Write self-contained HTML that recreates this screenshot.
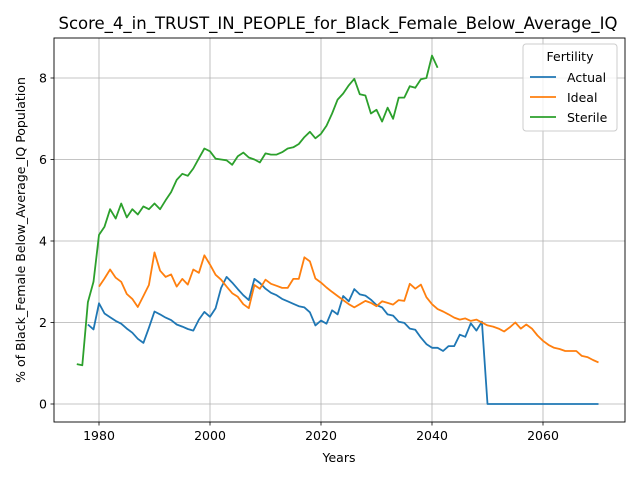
<!DOCTYPE html>
<html><head><meta charset="utf-8"><style>
body{margin:0;background:#fff;font-family:"Liberation Sans","DejaVu Sans",sans-serif}
svg text{font-family:"DejaVu Sans","Liberation Sans",sans-serif;fill:#000}
</style></head><body>
<svg id="chart" width="640" height="480">
<text x="338" y="29" font-size="16.5" text-anchor="middle">Score_4_in_TRUST_IN_PEOPLE_for_Black_Female_Below_Average_IQ</text>
<g id="grid"></g>
<g id="series"></g>
<rect x="54" y="38" width="571" height="384" fill="none" stroke="#000" stroke-width="0.9"/>
<g id="ticks"></g>
<text x="339" y="462" font-size="12.5" text-anchor="middle">Years</text>
<text transform="translate(25,230) rotate(-90)" font-size="12.5" text-anchor="middle">% of Black_Female Below_Average_IQ Population</text>
<g>
<rect x="523" y="44" width="94" height="87" rx="3" fill="#fff" fill-opacity="0.8" stroke="#ccc"/>
<text x="570" y="61" font-size="12.5" text-anchor="middle">Fertility</text>
<line x1="530" y1="77" x2="556" y2="77" stroke="#1f77b4" stroke-width="1.8"/>
<text x="567" y="82" font-size="12.5">Actual</text>
<line x1="530" y1="97" x2="556" y2="97" stroke="#ff7f0e" stroke-width="1.8"/>
<text x="567" y="102" font-size="12.5">Ideal</text>
<line x1="530" y1="117" x2="556" y2="117" stroke="#2ca02c" stroke-width="1.8"/>
<text x="567" y="122" font-size="12.5">Sterile</text>
</g>
</svg>
<script>
const xTicks=[1980,2000,2020,2040,2060];
const yTicks=[0,2,4,6,8];
const sterileStart=1976;
const sterileVals=[0.98,0.95,2.5,3.0,4.15,4.35,4.78,4.55,4.92,4.58,4.78,4.65,4.85,4.78,4.92,4.78,5.0,5.2,5.5,5.65,5.6,5.78,6.03,6.27,6.2,6.02,6.0,5.98,5.87,6.08,6.17,6.05,6.0,5.93,6.15,6.12,6.12,6.18,6.27,6.3,6.38,6.55,6.68,6.52,6.63,6.83,7.13,7.47,7.62,7.82,7.98,7.6,7.57,7.13,7.22,6.93,7.27,7.0,7.52,7.52,7.8,7.76,7.97,8.0,8.55,8.25];
const actualStart=1978;
const actualVals=[1.95,1.83,2.47,2.22,2.13,2.04,1.97,1.85,1.75,1.6,1.5,1.87,2.27,2.2,2.12,2.06,1.95,1.9,1.84,1.8,2.07,2.26,2.14,2.35,2.85,3.12,2.98,2.82,2.67,2.55,3.07,2.97,2.83,2.73,2.67,2.58,2.52,2.46,2.4,2.37,2.25,1.93,2.05,1.97,2.3,2.2,2.65,2.52,2.82,2.69,2.66,2.56,2.43,2.37,2.2,2.17,2.02,1.99,1.85,1.82,1.63,1.47,1.38,1.38,1.3,1.42,1.42,1.7,1.65,1.98,1.8,2.02,0,0,0,0,0,0,0,0,0,0,0,0,0,0,0,0,0,0,0,0,0];
const idealStart=1980;
const idealVals=[2.88,3.08,3.3,3.1,3.0,2.7,2.58,2.38,2.65,2.92,3.72,3.27,3.12,3.18,2.88,3.07,2.93,3.3,3.22,3.65,3.42,3.17,3.05,2.88,2.72,2.63,2.45,2.35,2.92,2.83,3.05,2.95,2.9,2.85,2.85,3.07,3.07,3.6,3.5,3.08,2.98,2.86,2.75,2.65,2.55,2.45,2.37,2.45,2.53,2.48,2.4,2.52,2.48,2.44,2.55,2.53,2.95,2.83,2.93,2.62,2.45,2.33,2.27,2.2,2.12,2.07,2.1,2.04,2.07,2.0,1.93,1.9,1.85,1.78,1.88,2.0,1.85,1.95,1.85,1.68,1.55,1.45,1.38,1.35,1.3,1.3,1.3,1.18,1.15,1.08,1.02];
const X=y=>99+(y-1980)*5.55, Y=v=>404-v*40.75;
const NS='http://www.w3.org/2000/svg';
const grid=document.getElementById('grid'),ticks=document.getElementById('ticks'),ser=document.getElementById('series');
function mk(tag,attrs,parent){const e=document.createElementNS(NS,tag);for(const k in attrs)e.setAttribute(k,attrs[k]);parent.appendChild(e);return e;}
xTicks.forEach(t=>{const x=X(t);
 const g=mk('line',{x1:x,x2:x,y1:38,y2:422,stroke:'#b0b0b0','stroke-width':0.8},grid);
 
 
 mk('line',{x1:x,x2:x,y1:422,y2:425.5,stroke:'#000','stroke-width':0.8},ticks);
 const tx=mk('text',{x:x,y:440,'font-size':12.5,'text-anchor':'middle'},ticks);tx.textContent=t;
 
 });
yTicks.forEach(t=>{const y=Y(t);
 const g=mk('line',{x1:54,x2:625,y1:y,y2:y,stroke:'#b0b0b0','stroke-width':0.8},grid);
 
 
 mk('line',{x1:50.5,x2:54,y1:y,y2:y,stroke:'#000','stroke-width':0.8},ticks);
 const tx=mk('text',{x:47,y:y+4.5,'font-size':12.5,'text-anchor':'end'},ticks);tx.textContent=t;
 
 });
function line(start,vals,color,name){const pts=vals.map((v,i)=>X(start+i).toFixed(1)+','+Y(v).toFixed(1)).join(' ');
 const p=mk('polyline',{points:pts,fill:'none',stroke:color,'stroke-width':1.8,'stroke-linejoin':'round'},ser);
 
 }
line(actualStart,actualVals,'#1f77b4','actual-line');
line(idealStart,idealVals,'#ff7f0e','ideal-line');
line(sterileStart,sterileVals,'#2ca02c','sterile-line');
</script>
</body></html>
